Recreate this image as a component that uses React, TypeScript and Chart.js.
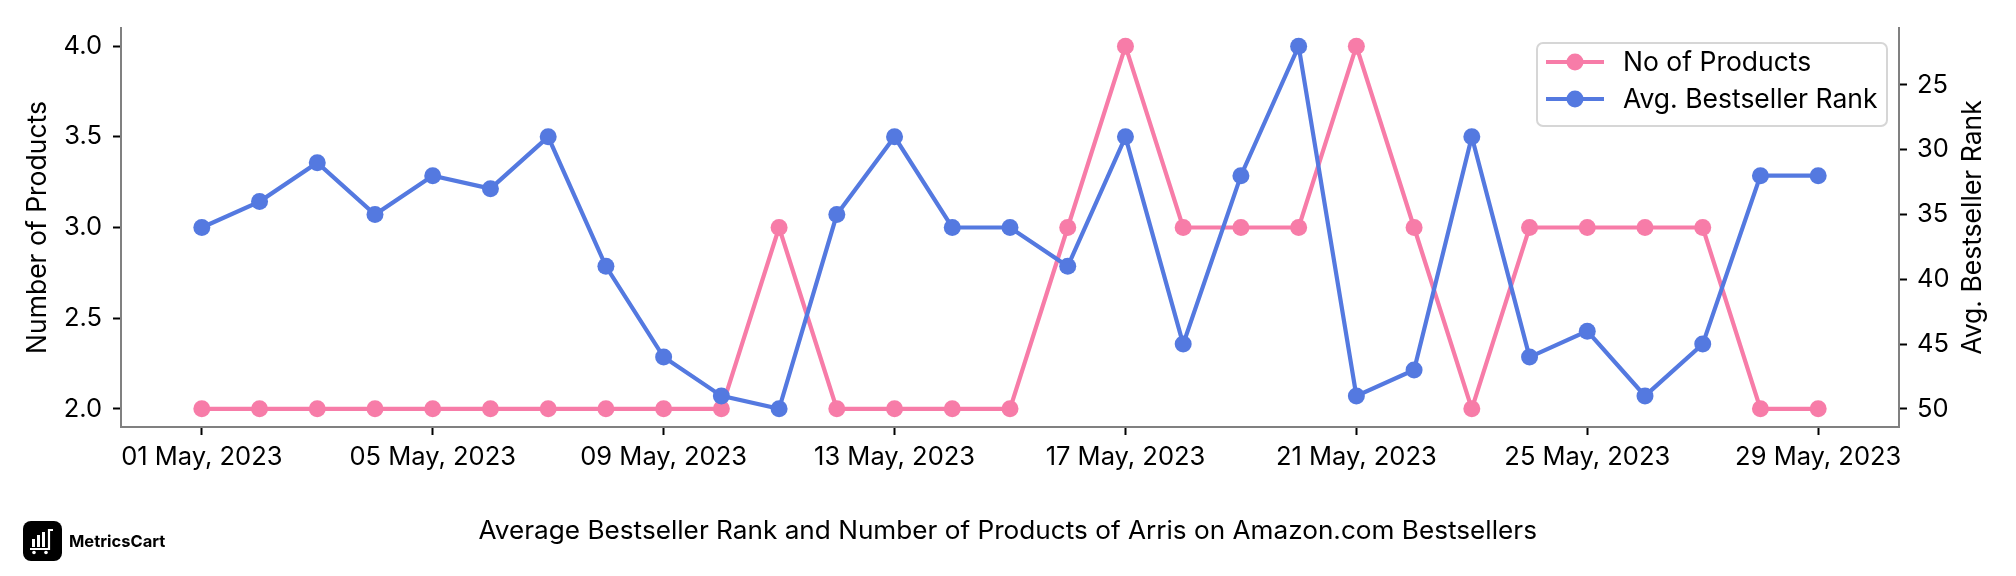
import React, { useEffect, useRef } from "react";
import { Chart, registerables } from "chart.js";

Chart.register(...registerables);

const dates = [
  "01 May, 2023", "02 May, 2023", "03 May, 2023", "04 May, 2023", "05 May, 2023",
  "06 May, 2023", "07 May, 2023", "08 May, 2023", "09 May, 2023", "10 May, 2023",
  "11 May, 2023", "12 May, 2023", "13 May, 2023", "14 May, 2023", "15 May, 2023",
  "16 May, 2023", "17 May, 2023", "18 May, 2023", "19 May, 2023", "20 May, 2023",
  "21 May, 2023", "22 May, 2023", "23 May, 2023", "24 May, 2023", "25 May, 2023",
  "26 May, 2023", "27 May, 2023", "28 May, 2023", "29 May, 2023",
];

const noOfProducts = [2, 2, 2, 2, 2, 2, 2, 2, 2, 2, 3, 2, 2, 2, 2, 3, 4, 3, 3, 3, 4, 3, 2, 3, 3, 3, 3, 2, 2];
const avgRank = [36, 34, 31, 35, 32, 33, 29, 39, 46, 49, 50, 35, 29, 36, 36, 39, 29, 45, 32, 22, 49, 47, 29, 46, 44, 49, 45, 32, 32];

const xTickIndex = [0, 4, 8, 12, 16, 20, 24, 28];
const leftTicks = [2.0, 2.5, 3.0, 3.5, 4.0];
const rightTicks = [25, 30, 35, 40, 45, 50];

const PINK = "#F77CA8";
const BLUE = "#5479E0";
const FONT = "Inter";
const TICK_FS = 25.5;
const FS = 26.5;

const rightTitle = "Avg. Bestseller Rank";

const rightTitlePlugin = {
  id: "rightTitle",
  afterDraw(chart: any) {
    const ctx = chart.ctx;
    const { top, bottom } = chart.chartArea;
    ctx.save();
    ctx.translate(1973, (top + bottom) / 2);
    ctx.rotate(-Math.PI / 2);
    ctx.font = `${FS}px ${FONT}`;
    ctx.fillStyle = "#000";
    ctx.textAlign = "center";
    ctx.textBaseline = "middle";
    ctx.fillText(rightTitle, 0, 0);
    ctx.restore();
  },
};

const boxLegendPlugin = {
  id: "boxLegend",
  afterDraw(chart: any) {
    const ctx = chart.ctx;
    const { right, top } = chart.chartArea;
    const boxW = 350;
    const boxH = 83;
    const x0 = right - 12 - boxW;
    const y0 = top + 15;
    ctx.save();
    ctx.beginPath();
    const r = 6;
    ctx.moveTo(x0 + r, y0);
    ctx.arcTo(x0 + boxW, y0, x0 + boxW, y0 + boxH, r);
    ctx.arcTo(x0 + boxW, y0 + boxH, x0, y0 + boxH, r);
    ctx.arcTo(x0, y0 + boxH, x0, y0, r);
    ctx.arcTo(x0, y0, x0 + boxW, y0, r);
    ctx.closePath();
    ctx.fillStyle = "rgba(255,255,255,0.85)";
    ctx.fill();
    ctx.strokeStyle = "#d6d6d6";
    ctx.lineWidth = 2;
    ctx.stroke();
    const rows = [19, 56];
    chart.data.datasets.forEach((ds: any, i: number) => {
      const cy = y0 + rows[i];
      ctx.strokeStyle = ds.borderColor;
      ctx.lineWidth = 4;
      ctx.beginPath();
      ctx.moveTo(x0 + 9, cy);
      ctx.lineTo(x0 + 67, cy);
      ctx.stroke();
      ctx.fillStyle = ds.borderColor;
      ctx.beginPath();
      ctx.arc(x0 + 38, cy, 8.5, 0, Math.PI * 2);
      ctx.fill();
      ctx.fillStyle = "#000";
      ctx.font = `${FS}px ${FONT}`;
      ctx.textAlign = "left";
      ctx.textBaseline = "middle";
      ctx.fillText(ds.label, x0 + 86, cy + 1);
    });
    ctx.restore();
  },
};

function App() {
  const canvasRef = useRef<HTMLCanvasElement | null>(null);
  const capRef = useRef<HTMLSpanElement | null>(null);

  useEffect(() => {
    document.body.style.margin = "0";
    const cap = capRef.current;
    if (cap) {
      const w = cap.offsetWidth;
      if (w > 0) cap.style.transform = `scaleX(${1058 / w})`;
    }
    const canvas = canvasRef.current;
    if (!canvas) return;
    const tickFont = { family: FONT, size: TICK_FS };
    const titleFont = { family: FONT, size: FS };
    const chart = new Chart(canvas, {
      type: "line",
      data: {
        datasets: [
          {
            label: "No of Products",
            data: noOfProducts.map((v, i) => ({ x: i, y: v })),
            yAxisID: "y",
            borderColor: PINK,
            backgroundColor: PINK,
            borderWidth: 4.2,
            pointRadius: 8.5,
            pointHoverRadius: 8.5,
            pointBorderWidth: 0,
            tension: 0,
            order: 1,
          },
          {
            label: "Avg. Bestseller Rank",
            data: avgRank.map((v, i) => ({ x: i, y: v })),
            yAxisID: "y1",
            borderColor: BLUE,
            backgroundColor: BLUE,
            borderWidth: 4.2,
            pointRadius: 8.5,
            pointHoverRadius: 8.5,
            pointBorderWidth: 0,
            tension: 0,
            order: 0,
          },
        ],
      },
      options: {
        animation: false,
        responsive: false,
        maintainAspectRatio: false,
        layout: { padding: { left: 0, right: 0, top: 28, bottom: 79 } },
        plugins: {
          legend: { display: false },
          tooltip: { enabled: false },
          title: { display: false },
        },
        scales: {
          x: {
            type: "linear",
            position: "bottom",
            min: -1.4,
            max: 29.4,
            afterBuildTicks: (scale: any) => {
              scale.ticks = xTickIndex.map((v) => ({ value: v }));
            },
            afterFit: (scale: any) => {
              scale.height = 70;
            },
            grid: {
              drawOnChartArea: false,
              drawTicks: true,
              tickLength: 8,
              tickColor: "#000",
              tickWidth: 2,
            },
            border: { color: "#808080", width: 2 },
            ticks: {
              color: "#000",
              font: tickFont,
              padding: 7,
              maxRotation: 0,
              autoSkip: false,
              callback: (value: any) => dates[value] ?? "",
            },
          },
          y: {
            type: "linear",
            position: "left",
            min: 1.9,
            max: 4.1,
            afterBuildTicks: (scale: any) => {
              scale.ticks = leftTicks.map((v) => ({ value: v }));
            },
            afterFit: (scale: any) => {
              scale.width = 121;
            },
            grid: {
              drawOnChartArea: false,
              drawTicks: true,
              tickLength: 8,
              tickColor: "#000",
              tickWidth: 2,
            },
            border: { color: "#808080", width: 2 },
            ticks: {
              color: "#000",
              font: tickFont,
              padding: 11,
              callback: (value: any) => Number(value).toFixed(1),
            },
            title: {
              display: true,
              text: "Number of Products",
              color: "#000",
              font: titleFont,
              padding: { top: 22, bottom: 0 },
            },
          },
          y1: {
            type: "linear",
            position: "right",
            reverse: true,
            min: 20.6,
            max: 51.4,
            afterBuildTicks: (scale: any) => {
              scale.ticks = rightTicks.map((v) => ({ value: v }));
            },
            afterFit: (scale: any) => {
              scale.width = 117;
            },
            grid: {
              drawOnChartArea: false,
              drawTicks: true,
              tickLength: 8,
              tickColor: "#000",
              tickWidth: 2,
            },
            border: { color: "#808080", width: 2 },
            ticks: {
              color: "#000",
              font: tickFont,
              padding: 10,
              callback: (value: any) => String(value),
            },
            title: { display: false, text: rightTitle },
          },
        },
      },
      plugins: [boxLegendPlugin, rightTitlePlugin],
    } as any);
    return () => chart.destroy();
  }, []);

  return (
    <div style={{ position: "fixed", left: 0, top: 0, width: 2016, height: 576, background: "#fff" }}>
      <canvas ref={canvasRef} width={2016} height={576} style={{ position: "absolute", left: 0, top: 0, width: 2016, height: 576 }} />
      <div style={{ position: "absolute", left: 23, top: 521, width: 39, height: 40, background: "#000", borderRadius: 8 }}>
        <svg width="39" height="40" viewBox="0 0 39 40">
          <rect x="9" y="18" width="3" height="8" fill="#fff" />
          <rect x="14" y="14" width="3" height="12" fill="#fff" />
          <rect x="19" y="11" width="3" height="15" fill="#fff" />
          <path d="M7 28 H26 V9 H30" stroke="#fff" strokeWidth="2.2" fill="none" />
          <circle cx="11" cy="31.5" r="1.8" fill="#fff" />
          <circle cx="23" cy="31.5" r="1.8" fill="#fff" />
        </svg>
      </div>
      <div style={{ position: "absolute", left: 69, top: 531, fontFamily: FONT, fontWeight: 700, fontSize: 16.5, lineHeight: "20px", color: "#000" }}>
        MetricsCart
      </div>
      <div style={{ position: "absolute", left: 0, top: 516, width: 2016, textAlign: "center", lineHeight: "28px" }}>
        <span ref={capRef} style={{ display: "inline-block", fontFamily: FONT, fontSize: 25, color: "#000", transformOrigin: "50% 50%", whiteSpace: "nowrap" }}>
          Average Bestseller Rank and Number of Products of Arris on Amazon.com Bestsellers
        </span>
      </div>
    </div>
  );
}

export default App;
